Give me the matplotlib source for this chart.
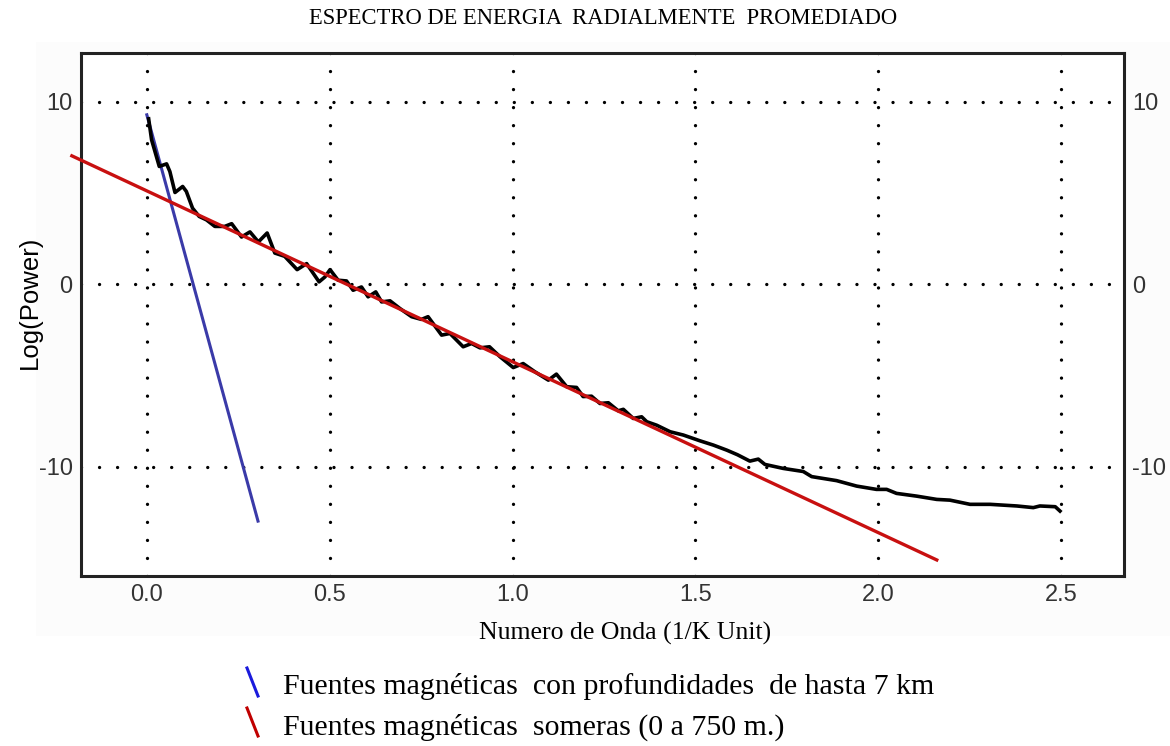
import matplotlib
matplotlib.use("Agg")
import matplotlib.pyplot as plt
from matplotlib.lines import Line2D
from matplotlib.patches import Rectangle

plt.rcParams["axes.unicode_minus"] = False

# radially averaged spectrum
k = [0.005, 0.013, 0.034, 0.054, 0.063, 0.077, 0.098, 0.108, 0.125, 0.143,
     0.163, 0.186, 0.213, 0.232, 0.259, 0.282, 0.305, 0.329, 0.350, 0.377,
     0.411, 0.437, 0.471, 0.487, 0.501, 0.523, 0.546, 0.564, 0.587, 0.605,
     0.626, 0.642, 0.665, 0.692, 0.724, 0.751, 0.769, 0.806, 0.829, 0.865,
     0.888, 0.911, 0.937, 0.966, 1.002, 1.029, 1.061, 1.098, 1.120, 1.148,
     1.175, 1.193, 1.216, 1.239, 1.262, 1.289, 1.303, 1.330, 1.353, 1.367,
     1.394, 1.431, 1.467, 1.513, 1.549, 1.586, 1.615, 1.649, 1.672, 1.690,
     1.740, 1.795, 1.818, 1.886, 1.941, 1.995, 2.023, 2.050, 2.105, 2.160,
     2.196, 2.251, 2.306, 2.379, 2.424, 2.442, 2.484, 2.497]
logp = [9.07, 7.92, 6.46, 6.60, 6.18, 5.03, 5.36, 5.09, 4.17, 3.72,
        3.53, 3.17, 3.17, 3.32, 2.59, 2.87, 2.32, 2.81, 1.71, 1.53,
        0.80, 1.13, 0.13, 0.40, 0.80, 0.22, 0.18, -0.33, -0.15, -0.69,
        -0.42, -0.97, -0.91, -1.33, -1.78, -1.93, -1.78, -2.79, -2.70, -3.43,
        -3.25, -3.49, -3.43, -3.98, -4.57, -4.35, -4.80, -5.26, -4.93, -5.62,
        -5.66, -6.16, -6.14, -6.54, -6.50, -6.94, -6.86, -7.36, -7.27, -7.54,
        -7.73, -8.09, -8.27, -8.59, -8.82, -9.10, -9.35, -9.70, -9.59, -9.88,
        -10.10, -10.27, -10.55, -10.77, -11.07, -11.25, -11.25, -11.47, -11.62, -11.80,
        -11.84, -12.07, -12.07, -12.16, -12.25, -12.16, -12.20, -12.44]

# fitted lines (end points)
deep_x = [0.0, 0.304]
deep_y = [9.29, -12.99]
shallow_x = [-0.205, 2.16]
shallow_y = [7.04, -15.12]

xticks = [0.0, 0.5, 1.0, 1.5, 2.0, 2.5]
yticks = [-10, 0, 10]

legend_labels = ["Fuentes magnéticas  con profundidades  de hasta 7 km",
                 "Fuentes magnéticas  someras (0 a 750 m.)"]
legend_colors = ["#1a1adc", "#c00000"]

W, H = 1170, 746
fig = plt.figure(figsize=(W / 100, H / 100), dpi=100)
fig.patch.set_facecolor("white")
fig.add_artist(Rectangle((36 / W, 1 - 636 / H), 1 - 36 / W, (636 - 42) / H,
                         transform=fig.transFigure, facecolor="#fcfcfc",
                         edgecolor="none", zorder=-10))

ax = fig.add_axes([81 / W, 1 - 576 / H, (1124 - 81) / W, (576 - 53) / H])
ax.set_facecolor("white")
ax.set_xlim(-0.18, 2.672)
ax.set_ylim(-16.0, 12.68)

dot = (0, (0.01, 5.4))
for xv in xticks:
    ax.axvline(xv, color="black", lw=2.4, linestyle=dot,
               dash_capstyle="round", zorder=1)
for yv in yticks:
    ax.axhline(yv, color="black", lw=2.4, linestyle=dot,
               dash_capstyle="round", zorder=1)

ax.plot(deep_x, deep_y, color="#3a3aa8", lw=2.2, zorder=2)
ax.plot(k, logp, color="black", lw=2.6, zorder=3, solid_joinstyle="round")
ax.plot(shallow_x, shallow_y, color="#c81010", lw=2.4, zorder=4, clip_on=False)

ax.set_xticks(xticks)
ax.set_xticklabels([f"{v:.1f}" for v in xticks])
ax.set_yticks(yticks)
ax.tick_params(length=0, labelsize=17, colors="#333333", pad=6,
               labelright=True, labelleft=True)
ax.tick_params(axis="x", pad=6)
for lab in ax.get_xticklabels() + ax.get_yticklabels():
    lab.set_family("Liberation Sans")
for s in ax.spines.values():
    s.set_linewidth(2.2)
    s.set_color("#222222")

fig.text(603 / W, 1 - 18 / H, "ESPECTRO DE ENERGIA  RADIALMENTE  PROMEDIADO",
         ha="center", va="center", fontsize=16.3, family="Liberation Serif")
fig.text(30 / W, 1 - 302 / H, "Log(Power)", rotation=90, ha="center",
         va="center", fontsize=18.5, family="Liberation Sans")
fig.text(625 / W, 1 - 633 / H, "Numero de Onda (1/K Unit)", ha="center",
         va="center", fontsize=18.5, family="Liberation Serif")

for i, (lab, col) in enumerate(zip(legend_labels, legend_colors)):
    y0 = 668 + 40 * i
    fig.add_artist(Line2D([247 / W, 258 / W], [1 - y0 / H, 1 - (y0 + 28) / H],
                          transform=fig.transFigure, color=col, lw=2.2))
    fig.text(283 / W, 1 - (y0 + 19) / H, lab, ha="left", va="center",
             fontsize=21.5, family="Liberation Serif")

fig.savefig("out.png", dpi=100)
